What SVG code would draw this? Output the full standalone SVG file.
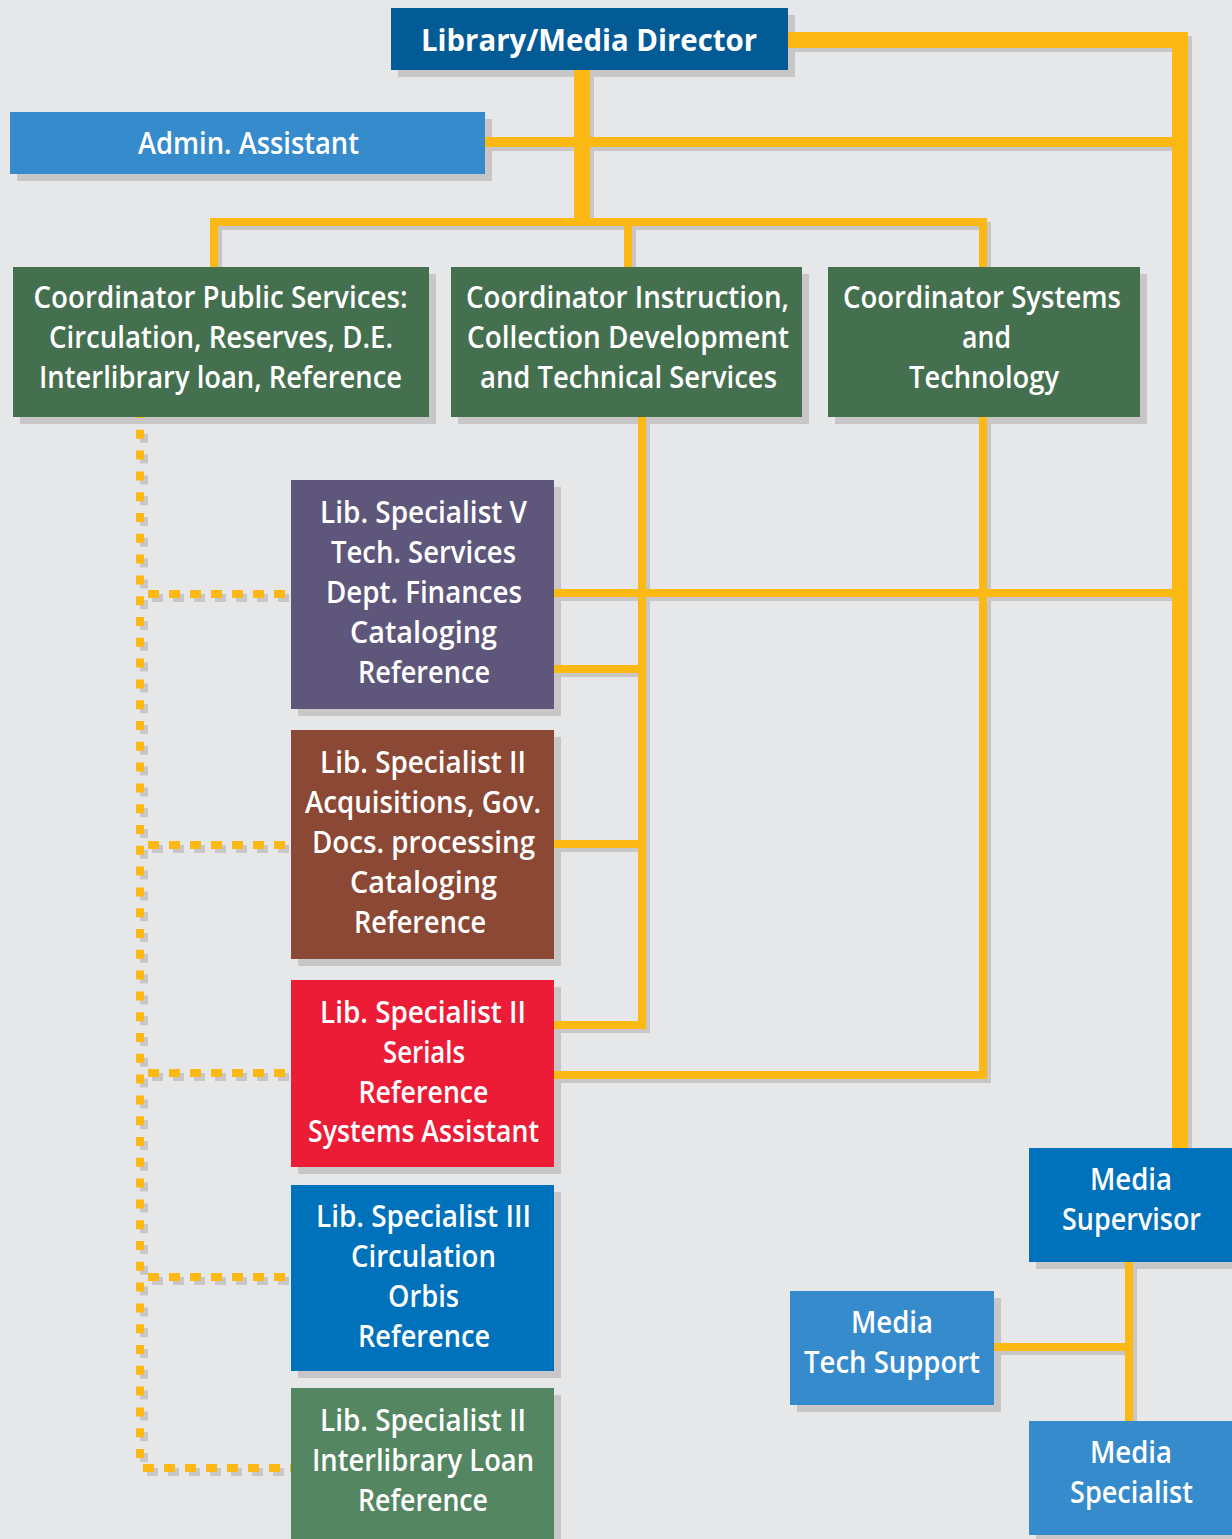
<svg xmlns="http://www.w3.org/2000/svg" xmlns:xlink="http://www.w3.org/1999/xlink" width="1232" height="1539" viewBox="0 0 1232 1539">
<style>
  .bg { fill: #e6e7e9; }
  .bshadow { fill: #c8c6c7; }
  .ln { fill: none; stroke-linecap: butt; stroke-linejoin: miter; }
  .w16 { stroke-width: 16; }
  .w10 { stroke-width: 10; }
  .w8 { stroke-width: 8; }
  .dotv { stroke-width: 8; stroke-dasharray: 9 11.8; }
  .doth { stroke-width: 8; stroke-dasharray: 11 10; }
  text { font-family: "Open Sans", "Noto Sans", "Liberation Sans", sans-serif; font-size: 30px; font-weight: 600; fill: #ffffff; text-anchor: middle; }
  .bold { font-weight: bold; font-size: 31px; }
  .dir { fill: #035b96; }
  .lblue { fill: #358bcb; }
  .dgreen { fill: #45704f; }
  .purple { fill: #5e577b; }
  .brown { fill: #8b4834; }
  .red { fill: #ed1c36; }
  .blue { fill: #0071bb; }
  .mgreen { fill: #548662; }
</style>
<rect class="bg" x="0" y="0" width="1232" height="1539"/>

<g id="box-shadows" class="bshadow">
  <rect x="398" y="15" width="397" height="62"/>
  <rect x="17" y="119" width="475" height="62"/>
  <rect x="20" y="274" width="416" height="150"/>
  <rect x="458" y="274" width="351" height="150"/>
  <rect x="835" y="274" width="312" height="150"/>
  <rect x="298" y="487" width="263" height="229"/>
  <rect x="298" y="737" width="263" height="229"/>
  <rect x="298" y="987" width="263" height="187"/>
  <rect x="298" y="1192" width="263" height="186"/>
  <rect x="298" y="1395" width="263" height="160"/>
  <rect x="1036" y="1155" width="210" height="114"/>
  <rect x="797" y="1298" width="204" height="114"/>
  <rect x="1036" y="1428" width="210" height="114"/>
</g>

<use xlink:href="#connectors" href="#connectors" stroke="#c8c6c7" transform="translate(4,4)"/>
<g stroke="#fdb913">
<g id="connectors" class="ln">
  <path class="w16" d="M788,40 H1180 V1148"/>
  <path class="w16" d="M582,70 V226"/>
  <path class="w10" d="M485,142 H1176"/>
  <path class="w8" d="M214,267 V222 H983 V267"/>
  <path class="w8" d="M628,222 V267"/>
  <path class="w8" d="M642,417 V1025 H554"/>
  <path class="w8" d="M983,417 V1075 H554"/>
  <path class="w8" d="M554,593 H1174"/>
  <path class="w8" d="M554,669 H642"/>
  <path class="w8" d="M554,844 H642"/>
  <path class="w8" d="M1129,1262 V1421"/>
  <path class="w8" d="M994,1347 H1129"/>
  <path class="dotv" d="M140,409 V1461"/>
  <path class="doth" d="M148,594 H291"/>
  <path class="doth" d="M148,845 H291"/>
  <path class="doth" d="M148,1073 H291"/>
  <path class="doth" d="M148,1277 H291"/>
  <path class="doth" d="M143,1468 H291"/>
</g>
</g>

<g id="node-director">
  <rect class="dir" x="391" y="8" width="397" height="62"/>
  <text class="bold" x="589" y="51" textLength="336" lengthAdjust="spacingAndGlyphs">Library/Media Director</text>
</g>
<g id="node-admin">
  <rect class="lblue" x="10" y="112" width="475" height="62"/>
  <text x="248.5" y="154" textLength="221" lengthAdjust="spacingAndGlyphs">Admin. Assistant</text>
</g>
<g id="node-coord-public">
  <rect class="dgreen" x="13" y="267" width="416" height="150"/>
  <text x="220.5" y="308" textLength="374" lengthAdjust="spacingAndGlyphs">Coordinator Public Services:</text>
  <text x="221" y="348" textLength="344" lengthAdjust="spacingAndGlyphs">Circulation, Reserves, D.E.</text>
  <text x="220.5" y="388" textLength="363" lengthAdjust="spacingAndGlyphs">Interlibrary loan, Reference</text>
</g>
<g id="node-coord-instruction">
  <rect class="dgreen" x="451" y="267" width="351" height="150"/>
  <text x="627.5" y="308" textLength="323" lengthAdjust="spacingAndGlyphs">Coordinator Instruction,</text>
  <text x="628" y="348" textLength="322" lengthAdjust="spacingAndGlyphs">Collection Development</text>
  <text x="628.5" y="388" textLength="297" lengthAdjust="spacingAndGlyphs">and Technical Services</text>
</g>
<g id="node-coord-systems">
  <rect class="dgreen" x="828" y="267" width="312" height="150"/>
  <text x="982" y="308" textLength="278" lengthAdjust="spacingAndGlyphs">Coordinator Systems</text>
  <text x="986.5" y="348" textLength="49" lengthAdjust="spacingAndGlyphs">and</text>
  <text x="984" y="388" textLength="150" lengthAdjust="spacingAndGlyphs">Technology</text>
</g>
<g id="node-spec-v">
  <rect class="purple" x="291" y="480" width="263" height="229"/>
  <text x="423.5" y="523" textLength="207" lengthAdjust="spacingAndGlyphs">Lib. Specialist V</text>
  <text x="423.5" y="563" textLength="185" lengthAdjust="spacingAndGlyphs">Tech. Services</text>
  <text x="424" y="603" textLength="196" lengthAdjust="spacingAndGlyphs">Dept. Finances</text>
  <text x="423.5" y="643" textLength="147" lengthAdjust="spacingAndGlyphs">Cataloging</text>
  <text x="424" y="683" textLength="132" lengthAdjust="spacingAndGlyphs">Reference</text>
</g>
<g id="node-spec-ii-acq">
  <rect class="brown" x="291" y="730" width="263" height="229"/>
  <text x="423" y="773" textLength="206" lengthAdjust="spacingAndGlyphs">Lib. Specialist II</text>
  <text x="423" y="813" textLength="236" lengthAdjust="spacingAndGlyphs">Acquisitions, Gov.</text>
  <text x="423.5" y="853" textLength="223" lengthAdjust="spacingAndGlyphs">Docs. processing</text>
  <text x="423.5" y="893" textLength="147" lengthAdjust="spacingAndGlyphs">Cataloging</text>
  <text x="420" y="933" textLength="132" lengthAdjust="spacingAndGlyphs">Reference</text>
</g>
<g id="node-spec-ii-serials">
  <rect class="red" x="291" y="980" width="263" height="187"/>
  <text x="423" y="1023" textLength="206" lengthAdjust="spacingAndGlyphs">Lib. Specialist II</text>
  <text x="424" y="1063" textLength="82" lengthAdjust="spacingAndGlyphs">Serials</text>
  <text x="423.5" y="1103" textLength="130" lengthAdjust="spacingAndGlyphs">Reference</text>
  <text x="423.5" y="1142" textLength="231" lengthAdjust="spacingAndGlyphs">Systems Assistant</text>
</g>
<g id="node-spec-iii">
  <rect class="blue" x="291" y="1185" width="263" height="186"/>
  <text x="423.5" y="1227" textLength="215" lengthAdjust="spacingAndGlyphs">Lib. Specialist III</text>
  <text x="423.5" y="1267" textLength="145" lengthAdjust="spacingAndGlyphs">Circulation</text>
  <text x="423.5" y="1307" textLength="71" lengthAdjust="spacingAndGlyphs">Orbis</text>
  <text x="424" y="1347" textLength="132" lengthAdjust="spacingAndGlyphs">Reference</text>
</g>
<g id="node-spec-ii-ill">
  <rect class="mgreen" x="291" y="1388" width="263" height="160"/>
  <text x="423" y="1431" textLength="206" lengthAdjust="spacingAndGlyphs">Lib. Specialist II</text>
  <text x="423" y="1471" textLength="222" lengthAdjust="spacingAndGlyphs">Interlibrary Loan</text>
  <text x="423" y="1511" textLength="130" lengthAdjust="spacingAndGlyphs">Reference</text>
</g>
<g id="node-media-supervisor">
  <rect class="blue" x="1029" y="1148" width="210" height="114"/>
  <text x="1131" y="1190" textLength="82" lengthAdjust="spacingAndGlyphs">Media</text>
  <text x="1131.5" y="1230" textLength="139" lengthAdjust="spacingAndGlyphs">Supervisor</text>
</g>
<g id="node-media-tech">
  <rect class="lblue" x="790" y="1291" width="204" height="114"/>
  <text x="892" y="1333" textLength="82" lengthAdjust="spacingAndGlyphs">Media</text>
  <text x="892" y="1373" textLength="176" lengthAdjust="spacingAndGlyphs">Tech Support</text>
</g>
<g id="node-media-specialist">
  <rect class="lblue" x="1029" y="1421" width="210" height="114"/>
  <text x="1131" y="1463" textLength="82" lengthAdjust="spacingAndGlyphs">Media</text>
  <text x="1131.5" y="1503" textLength="123" lengthAdjust="spacingAndGlyphs">Specialist</text>
</g>
</svg>
